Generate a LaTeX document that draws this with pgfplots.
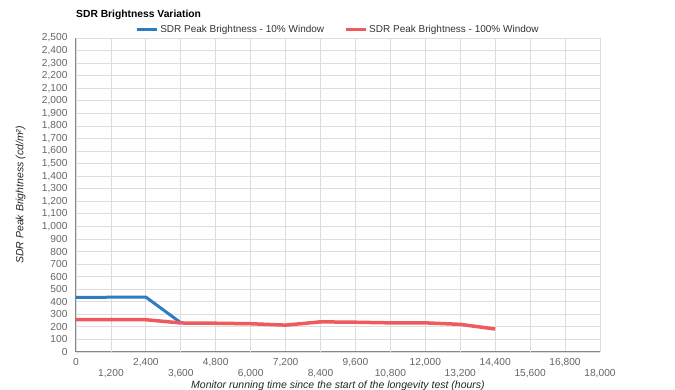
\documentclass[border=0pt]{standalone}
\usepackage{pgfplots}
\pgfplotsset{compat=1.18}
\usepackage{fontspec}
\setmainfont{Liberation Sans}
\definecolor{blueS}{HTML}{2E7DBF}
\definecolor{redS}{HTML}{EF5A5F}
\definecolor{tickc}{HTML}{666666}
\definecolor{gridc}{HTML}{DDDDDD}
\definecolor{axc}{HTML}{888888}
\begin{document}
\begin{tikzpicture}
\useasboundingbox (-76pt,-38pt) rectangle (599pt,352pt);
\begin{axis}[
  at={(0pt,0pt)}, anchor=south west,
  scale only axis, width=524pt, height=314pt,
  xmin=0, xmax=18000, ymin=0, ymax=2500,
  scaled x ticks=false, scaled y ticks=false,
  xtick={0,2400,...,16800},
  extra x ticks={1200,3600,6000,8400,10800,13200,15600,18000},
  extra x tick style={tick label style={yshift=-11.5pt}, grid=major},
  ytick={0,100,...,2500},
  grid=major,
  major grid style={draw=gridc, line width=0.8pt},
  axis lines*=left,
  axis line style={draw=axc, line width=1pt, -},
  major tick length=0pt,
  /pgf/number format/1000 sep={,},
  /pgf/number format/assume math mode=true,
  tick label style={font=\fontsize{10.2}{11}\selectfont, text=tickc},
  xticklabel style={yshift=-2.5pt},
  yticklabel style={xshift=-5pt},
  xlabel={\textit{Monitor running time since the start of the longevity test (hours)}},
  ylabel={\textit{SDR Peak Brightness (cd/m²)}},
  label style={font=\fontsize{10.5}{12}\selectfont, text=black!85},
  xlabel style={at={(axis description cs:0.5,0)}, anchor=north, yshift=-25.5pt},
  ylabel style={at={([xshift=-47pt]axis description cs:0,0.5)}, anchor=south},
  legend columns=2,
  legend style={at={(0.5,1)}, anchor=south, yshift=0pt, draw=none, fill=none,
     font=\fontsize{10}{12}\selectfont, text=black!80,
     /tikz/every even column/.append style={column sep=18pt}},
  legend image code/.code={\draw[#1, line width=3pt] (0pt,0pt) -- (20pt,0pt);},
  clip=false,
]
\addplot[color=blueS, line width=3pt, line join=round] coordinates {
 (0,435) (2400,437) (3600,233)
};
\addlegendentry{SDR Peak Brightness - 10\% Window}
\addplot[color=redS, line width=3.5pt, line join=round] coordinates {
 (0,257) (2400,257) (3600,231) (4800,229) (6000,225) (7200,214) (8400,240) (9600,237) (10800,232) (12000,232) (13200,220) (14400,183)
};
\addlegendentry{SDR Peak Brightness - 100\% Window}
\node[anchor=west, inner sep=0pt, font=\fontsize{10.3}{12}\selectfont\bfseries] at ([yshift=23pt]rel axis cs:0,1) {SDR Brightness Variation};
\end{axis}
\end{tikzpicture}
\end{document}
